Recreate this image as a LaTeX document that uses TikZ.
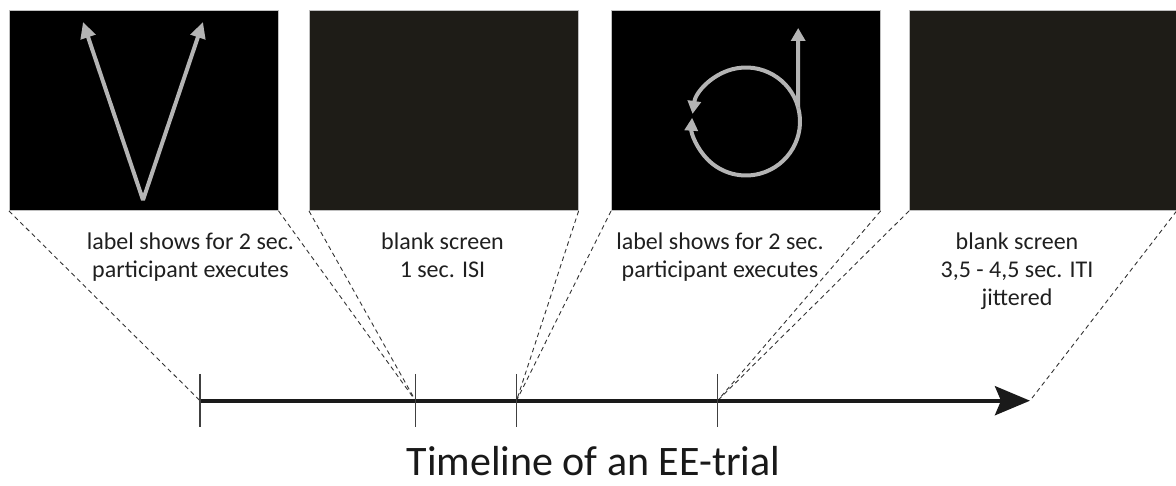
\documentclass[tikz,border=0pt]{standalone}
\usepackage{fontspec}
\setmainfont{Carlito}
\usetikzlibrary{arrows.meta}
\definecolor{gesture}{RGB}{180,180,180}
\definecolor{blankscr}{RGB}{30,28,23}
\definecolor{axiscol}{RGB}{26,26,26}
\begin{document}
\begin{tikzpicture}[x=1pt,y=1pt,
  screen/.style={draw=gray!50, line width=0.6pt, minimum width=269pt, minimum height=200pt, inner sep=0pt, anchor=south west},
  caption/.style={font=\fontsize{24}{28}\selectfont, align=center, text=black!88, anchor=base, inner sep=0pt},
  zoomline/.style={dash pattern=on 4.5pt off 3.5pt, line width=0.9pt, black!80},
  tickline/.style={line width=1.1pt, black!75},
  gest/.style={gesture, line width=4pt, line join=bevel}]
\useasboundingbox (0,0) rectangle (1176,485);
% screens
\node[screen, fill=black] (s1) at (9,274) {};
\node[screen, fill=blankscr] (s2) at (309,274) {};
\node[screen, fill=black] (s3) at (611,274) {};
\node[screen, fill=blankscr, minimum width=267pt] (s4) at (909,274) {};
% timeline points
\coordinate (t1) at (200,84.3);
\coordinate (t2) at (415.5,84.3);
\coordinate (t3) at (516.5,84.3);
\coordinate (t4) at (717.5,84.3);
\coordinate (tend) at (1030,84.3);
% dashed zoom lines
\draw[zoomline] (s1.south west) -- (t1);
\draw[zoomline] (s1.south east) -- (t2);
\draw[zoomline] (s2.south west) -- (t2);
\draw[zoomline] (s2.south east) -- (t3);
\draw[zoomline] (s3.south west) -- (t3);
\draw[zoomline] (s3.south east) -- (t4);
\draw[zoomline] (s4.south west) -- (t4);
\draw[zoomline] (s4.south east) -- (tend);
% timeline
\draw[line width=4pt, axiscol, -{Stealth[length=35pt,width=29pt,inset=6pt]}] (t1) -- (tend);
\foreach \t in {t1,t2,t3,t4}
  \draw[tickline] ([yshift=26.7pt]\t) -- ([yshift=-26.3pt]\t);
% V gesture
\draw[gest, {Triangle[length=16pt,width=15pt]}-{Triangle[length=16pt,width=15pt]}] (83,463) -- (143,285) -- (203,463);
% loop gesture
\coordinate (loopc) at (746,363.5);
\draw[gest, -{Triangle[length=13pt,width=13pt]}] ([shift={(15:54)}]loopc) arc[start angle=15, end angle=172, radius=54];
\draw[gest, -{Triangle[length=13pt,width=13pt]}] ([shift={(15:54)}]loopc) arc[start angle=15, end angle=-184, radius=54];
\draw[gest, -{Triangle[length=13pt,width=14pt]}] ([shift={(15:54)}]loopc) -- (798.2,457);
% captions (anchor = baseline of last line)
\node[caption] (c1) at (190.5,207) {label shows for 2 sec.\\participant executes};
\node[caption] (c2) at (442.5,207) {blank screen\\1 sec. ISI};
\node[caption] (c3) at (720,207) {label shows for 2 sec.\\participant executes};
\node[caption] (c4) at (1017,179) {blank screen\\3,5 - 4,5 sec. ITI\\jittered};
% title
\node[font=\fontsize{42}{48}\selectfont, text=black!90, anchor=base, inner sep=0pt] (title) at (593.5,10) {Timeline of an EE-trial};
\end{tikzpicture}
\end{document}
